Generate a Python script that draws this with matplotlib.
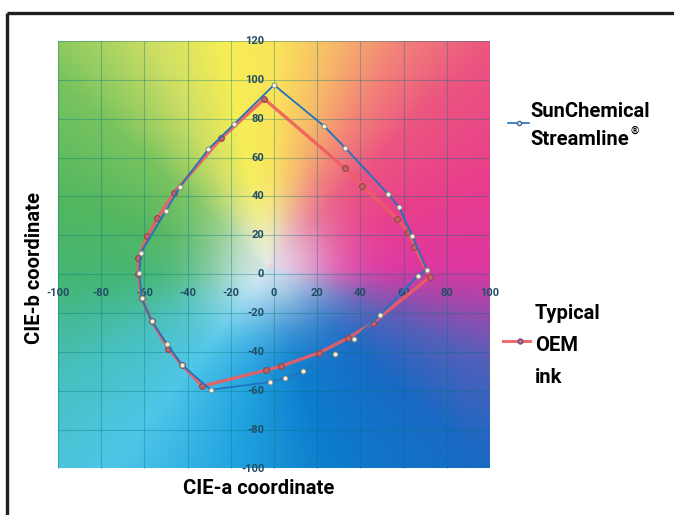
import numpy as np
import matplotlib
matplotlib.use("Agg")
import matplotlib.pyplot as plt
from matplotlib.lines import Line2D

# ---------------- data ----------------
sun_a = [0.0, -18.5, -30.4, -43.5, -50.0, -61.7, -62.3, -61.3, -56.6, -49.7, -42.7, -29.3,
         -1.9, 5.2, 13.6, 28.2, 37.0, 49.1, 66.5, 70.7, 64.0, 58.0, 52.9, 32.9, 23.1, 0.0]
sun_b = [97.4, 77.2, 64.3, 45.0, 32.6, 11.0, 0.5, -12.5, -24.2, -35.7, -46.6, -59.5,
         -55.5, -53.4, -50.0, -41.2, -33.2, -21.1, -0.8, 2.4, 19.8, 34.4, 41.2, 65.1, 76.3, 97.4]

oem_a = [-4.5, -24.5, -46.3, -54.0, -58.6, -62.8, -62.8, -61.3, -56.6, -48.9, -42.7, -33.2,
         -3.9, 3.1, 21.0, 34.4, 45.7, 72.2, 65.0, 62.2, 57.1, 40.9, 32.9, -4.5]
oem_b = [90.2, 69.9, 41.9, 28.7, 19.6, 8.4, 0.0, -12.5, -24.2, -38.3, -46.6, -57.6,
         -49.5, -47.4, -40.4, -32.8, -25.1, -1.4, 14.1, 21.5, 28.4, 45.4, 54.5, 90.2]

x_ticks = [-100, -80, -60, -40, -20, 0, 20, 40, 60, 80, 100]
y_ticks = [-100, -80, -60, -40, -20, 0, 20, 40, 60, 80, 100, 120]

legend_sun = ["SunChemical", "Streamline"]
legend_oem = ["Typical", "OEM", "ink"]
x_label = "CIE-a coordinate"
y_label = "CIE-b coordinate"

plt.rcParams["font.family"] = ["Roboto", "DejaVu Sans"]
BOLD = dict(fontweight="bold")

W, H = 674, 515
fig = plt.figure(figsize=(W / 100, H / 100), dpi=100)
fig.patch.set_facecolor("white")

L, R, T, B = 58, 490, 41, 468.5
ax = fig.add_axes([L / W, 1 - B / H, (R - L) / W, (B - T) / H])
ax.set_xlim(-100, 100)
ax.set_ylim(-100, 120)
ax.axis("off")

# ---------------- background colour field ----------------
stops = [
    (0, (222, 55, 160)), (25, (232, 62, 140)), (48, (236, 85, 128)),
    (62, (242, 130, 120)), (75, (247, 185, 105)), (88, (250, 228, 90)),
    (100, (246, 238, 85)), (115, (205, 222, 100)), (135, (120, 195, 95)),
    (160, (82, 182, 95)), (185, (68, 182, 118)), (210, (72, 192, 190)),
    (235, (78, 198, 232)), (260, (35, 165, 224)), (285, (12, 125, 205)),
    (315, (25, 105, 195)), (335, (85, 95, 185)), (350, (170, 70, 170)),
    (360, (222, 55, 160)),
]
sa = np.array([s[0] for s in stops], float)
sc = np.array([s[1] for s in stops], float) / 255.0
aa, bb = np.meshgrid(np.linspace(-100, 100, 400), np.linspace(-100, 120, 440))
ang = np.degrees(np.arctan2(bb - 3, aa + 3)) % 360
rad = np.hypot(aa + 3, bb - 3)
hue = np.stack([np.interp(ang, sa, sc[:, k]) for k in range(3)], axis=-1)
s = 1 - np.exp(-(rad / 30.0) ** 2)
s = 0.12 + 0.88 * s
white = np.array([228, 236, 242]) / 255.0
img = white * (1 - s[..., None]) + hue * s[..., None]
ax.imshow(img, extent=(-100, 100, -100, 120), origin="lower", aspect="auto",
          interpolation="bilinear", zorder=0)

# grid
for xv in x_ticks:
    ax.plot([xv, xv], [-100, 120], color=(0.0, 0.45, 0.5), alpha=0.35, lw=0.8, zorder=1)
for yv in y_ticks:
    ax.plot([-100, 100], [yv, yv], color=(0.0, 0.45, 0.5), alpha=0.35, lw=0.8, zorder=1)

tick_col = (0.13, 0.3, 0.4)
for xv in x_ticks:
    ax.text(xv, -9.5, str(xv), ha="center", va="center", fontsize=8,
            color=tick_col, zorder=3, clip_on=False, **BOLD)
for yv in y_ticks:
    ax.text(-4.5, yv, str(yv), ha="right", va="center", fontsize=8,
            color=tick_col, zorder=3, clip_on=False, **BOLD)

# series
ax.plot(oem_a, oem_b, color=(0.94, 0.36, 0.38), lw=2.4, alpha=0.9, zorder=4,
        solid_joinstyle="round")
ax.plot(oem_a[:-1], oem_b[:-1], ls="none", marker="o", ms=4.2,
        mfc=(0.78, 0.38, 0.38), mec=(0.55, 0.25, 0.3), mew=0.7, zorder=5)
ax.plot(sun_a, sun_b, color=(0.12, 0.45, 0.75), lw=1.3, zorder=6)
ax.plot(sun_a[:-1], sun_b[:-1], ls="none", marker="o", ms=3.6,
        mfc=(0.97, 0.95, 0.82), mec=(0.45, 0.5, 0.55), mew=0.6, zorder=7)

# ---------------- texts ----------------
def fx(px):
    return px / W

def fy(py):
    return 1 - py / H

fig.text(fx(259), fy(488), x_label, ha="center", va="center", fontsize=14.5,
         color="black", **BOLD)
fig.text(fx(35), fy(268), y_label, ha="center", va="center", fontsize=14.5,
         color="black", rotation=90, **BOLD)

fig.text(fx(530), fy(117), legend_sun[0], ha="left", va="baseline", fontsize=14.5,
         color="black", **BOLD)
t2 = fig.text(fx(530), fy(145), legend_sun[1], ha="left", va="baseline", fontsize=14.5,
              color="black", **BOLD)
fig.canvas.draw()
bb2 = t2.get_window_extent(fig.canvas.get_renderer())
fig.text(bb2.x1 / W + 0.002, fy(134), "\u00ae", ha="left", va="baseline", fontsize=7.5,
         color="black", **BOLD)
fig.add_artist(Line2D([fx(508), fx(529)], [fy(123), fy(123)], color=(0.12, 0.45, 0.75),
                      lw=1.2, transform=fig.transFigure))
fig.add_artist(Line2D([fx(519)], [fy(123)], marker="o", ms=3, ls="none",
                      mfc=(0.97, 0.95, 0.82), mec=(0.3, 0.4, 0.6),
                      transform=fig.transFigure))

for i, txt in enumerate(legend_oem):
    fig.text(fx(535), fy(319 + 32 * i), txt, ha="left", va="baseline", fontsize=14.5,
             color="black", **BOLD)
fig.add_artist(Line2D([fx(503), fx(530)], [fy(341), fy(341)], color=(0.94, 0.36, 0.38),
                      lw=2.2, alpha=0.9, transform=fig.transFigure))
fig.add_artist(Line2D([fx(520)], [fy(341)], marker="o", ms=3.5, ls="none",
                      mfc=(0.7, 0.45, 0.55), mec=(0.45, 0.3, 0.45),
                      transform=fig.transFigure))

# outer frame (top and left edges)
fig.add_artist(Line2D([fx(7), 1.0], [fy(13), fy(13)], color=(0.12, 0.12, 0.12), lw=2.4,
                      transform=fig.transFigure, solid_capstyle="butt"))
fig.add_artist(Line2D([fx(7), fx(7)], [fy(13), 0.0], color=(0.12, 0.12, 0.12), lw=2.4,
                      transform=fig.transFigure, solid_capstyle="butt"))

fig.savefig("out.png", dpi=100)
